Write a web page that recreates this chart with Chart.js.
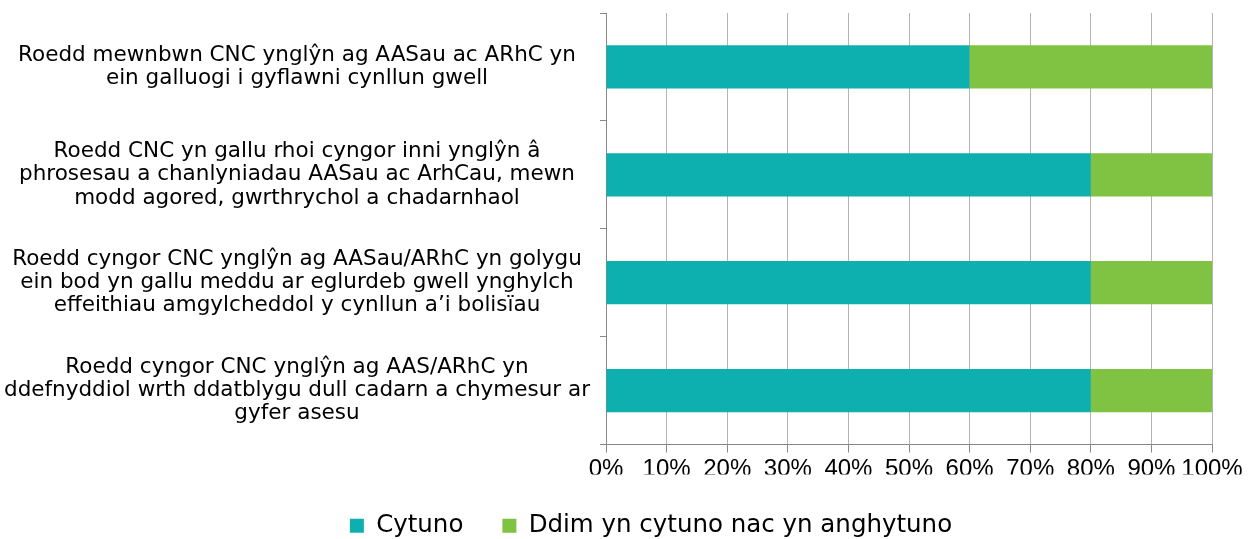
<!DOCTYPE html>
<html>
<head>
<meta charset="utf-8">
<script src="https://cdn.jsdelivr.net/npm/chart.js@4"></script>
<style>
  html, body { margin: 0; padding: 0; background: #fff; }
  #wrap { width: 1250px; height: 539px; }
</style>
</head>
<body>
<div id="wrap"><canvas id="barChart"></canvas></div>
<script>
// categories (multi-line, as in the original)
const categories = [
    ["Roedd mewnbwn CNC ynglŷn ag AASau ac ARhC yn", "ein galluogi i gyflawni cynllun gwell"],
    ["Roedd CNC yn gallu rhoi cyngor inni ynglŷn â", "phrosesau a chanlyniadau AASau ac ArhCau, mewn", "modd agored, gwrthrychol a chadarnhaol"],
    ["Roedd cyngor CNC ynglŷn ag AASau/ARhC yn golygu", "ein bod yn gallu meddu ar eglurdeb gwell ynghylch", "effeithiau amgylcheddol y cynllun a\u2019i bolisïau"],
    ["Roedd cyngor CNC ynglŷn ag AAS/ARhC yn", "ddefnyddiol wrth ddatblygu dull cadarn a chymesur ar", "gyfer asesu"]
]
const seriesNames = ["Cytuno", "Ddim yn cytuno nac yn anghytuno"]
const cytuno = [60, 80, 80, 80]
const ddim = [40, 20, 20, 20]

// nudge the legend to the right, under the plot like the original
const shiftLegend = {
    id: "shiftLegend",
    afterLayout(chart) {
        chart.legend.left += 45
        chart.legend.right += 45
    }
}

let ctx = document.getElementById("barChart").getContext("2d")
const myChart = new Chart(ctx, {
    type: "bar",
    data: {
        labels: categories,
        datasets: [{
            label: seriesNames[0],
            data: cytuno,
            backgroundColor: "#0DAFAF",
            barPercentage: 0.4,
            categoryPercentage: 1
        }, {
            label: seriesNames[1],
            data: ddim,
            backgroundColor: "#80C242",
            barPercentage: 0.4,
            categoryPercentage: 1
        }]
    },
    options: {
        indexAxis: "y",
        responsive: true,
        maintainAspectRatio: false,
        animation: false,
        layout: { padding: { top: 13, right: 38, left: 0, bottom: -9 } },
        scales: {
            x: {
                stacked: true,
                min: 0,
                max: 100,
                border: { color: "#888", width: 1 },
                grid: { color: "#b4b4b4", tickLength: 8, tickColor: "#888" },
                ticks: {
                    stepSize: 10,
                    autoSkip: false,
                    maxRotation: 0,
                    padding: 2,
                    color: "#000",
                    font: { family: "Liberation Sans", size: 24 },
                    callback: (v) => v + "%"
                },
                afterFit: (scale) => {
                    scale.height = 30
                    scale.paddingLeft = 0
                    scale.paddingRight = 0
                }
            },
            y: {
                stacked: true,
                border: { color: "#888", width: 1 },
                grid: { drawOnChartArea: false, tickLength: 6, color: "#888" },
                ticks: {
                    crossAlign: "center",
                    padding: 10,
                    color: "#000",
                    font: { family: "DejaVu Sans", size: 21.5, lineHeight: 1.08 }
                },
                afterFit: (scale) => {
                    scale.width = 606
                    scale.paddingTop = 0
                    scale.paddingBottom = 0
                }
            }
        },
        plugins: {
            legend: {
                position: "bottom",
                labels: {
                    boxWidth: 14,
                    boxHeight: 14,
                    padding: 39,
                    color: "#000",
                    font: { family: "DejaVu Sans", size: 24.5 }
                }
            },
            tooltip: { enabled: false }
        }
    },
    plugins: [shiftLegend]
})
</script>
</body>
</html>
